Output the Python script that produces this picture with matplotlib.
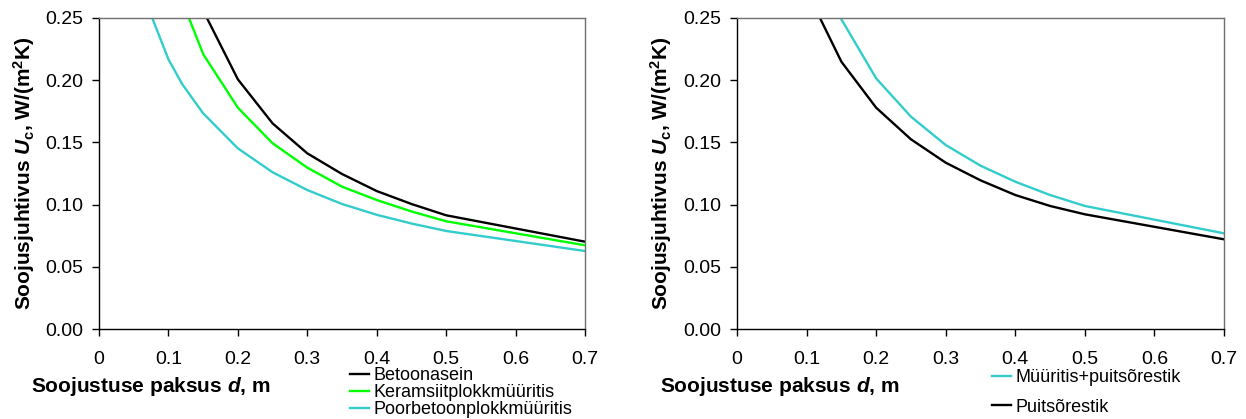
import numpy as np
import matplotlib
matplotlib.use('Agg')
import matplotlib.pyplot as plt
from matplotlib.ticker import FormatStrFormatter

plt.rcParams['font.family'] = ['Liberation Sans', 'DejaVu Sans']
plt.rcParams['mathtext.fontset'] = 'custom'
plt.rcParams['mathtext.rm'] = 'Liberation Sans:bold'
plt.rcParams['mathtext.bf'] = 'Liberation Sans:bold'
plt.rcParams['mathtext.it'] = 'Liberation Sans:bold:italic'

# left chart: wall types
d_betoon = [0.10, 0.15, 0.20, 0.25, 0.30, 0.35, 0.40, 0.45, 0.50, 0.70]
u_betoon = [0.352, 0.256, 0.2007, 0.1653, 0.1412, 0.1246, 0.1109, 0.1005, 0.0914, 0.0702]
d_keram = [0.10, 0.15, 0.20, 0.25, 0.30, 0.35, 0.40, 0.45, 0.50, 0.70]
u_keram = [0.292, 0.221, 0.1779, 0.1493, 0.1297, 0.1144, 0.1037, 0.0945, 0.0866, 0.0673]
d_poor = [0.05, 0.10, 0.12, 0.15, 0.20, 0.25, 0.30, 0.35, 0.40, 0.45, 0.50, 0.70]
u_poor = [0.288, 0.2168, 0.1967, 0.1734, 0.1452, 0.126, 0.1117, 0.1005, 0.0918, 0.0848, 0.0788, 0.0627]

# right chart: timber frame
d_muur = [0.10, 0.15, 0.20, 0.25, 0.30, 0.35, 0.40, 0.45, 0.50, 0.70]
u_muur = [0.316, 0.249, 0.2015, 0.1707, 0.1479, 0.1313, 0.1184, 0.1077, 0.0989, 0.0769]
d_puit = [0.10, 0.15, 0.20, 0.25, 0.30, 0.35, 0.40, 0.45, 0.50, 0.70]
u_puit = [0.272, 0.2149, 0.1779, 0.1525, 0.1337, 0.1195, 0.1077, 0.0989, 0.0922, 0.0721]

x_ticks = [0, 0.1, 0.2, 0.3, 0.4, 0.5, 0.6, 0.7]
x_ticklabels = ['0', '0.1', '0.2', '0.3', '0.4', '0.5', '0.6', '0.7']
y_ticks = [0.00, 0.05, 0.10, 0.15, 0.20, 0.25]

xlabel = r'Soojustuse paksus $d$, m'
ylabel = r'Soojusjuhtivus $U_{\mathrm{c}}$, W/(m$^{\mathrm{2}}$K)'

black = '#000000'
green = '#00ff00'
cyan = '#33cccc'

W, H = 1246, 419
fig = plt.figure(figsize=(W / 100, H / 100), dpi=100)
ax1 = fig.add_axes([99 / W, 90 / H, 486 / W, 311 / H])
ax2 = fig.add_axes([737 / W, 90 / H, 487 / W, 311 / H])

def style(ax, xlab_x):
  ax.set_xlim(0, 0.7)
  ax.set_ylim(0, 0.25)
  ax.set_xticks(x_ticks)
  ax.set_xticklabels(x_ticklabels)
  ax.set_yticks(y_ticks)
  ax.yaxis.set_major_formatter(FormatStrFormatter('%.2f'))
  ax.tick_params(axis='both', labelsize=14, length=5, width=1, direction='out')
  ax.tick_params(axis='x', pad=11)
  ax.tick_params(axis='y', pad=6)
  for s in ['top', 'right']:
    ax.spines[s].set_color('#707070')
  for s in ax.spines.values():
    s.set_linewidth(1)
  ax.set_xlabel(xlabel, fontsize=15, fontweight='bold', ha='center', va='center')
  ax.xaxis.set_label_coords(xlab_x, -0.186)
  ax.set_ylabel(ylabel, fontsize=15, fontweight='bold', va='center')
  ax.yaxis.set_label_coords(-0.155, 0.5)

ax1.plot(d_betoon, u_betoon, color=black, lw=1.7, label='Betoonasein')
ax1.plot(d_keram, u_keram, color=green, lw=1.7, label='Keramsiitplokkmüüritis')
ax1.plot(d_poor, u_poor, color=cyan, lw=1.7, label='Poorbetoonplokkmüüritis')
style(ax1, 0.107)

ax2.plot(d_muur, u_muur, color=cyan, lw=1.7, label='Müüritis+puitsõrestik')
ax2.plot(d_puit, u_puit, color=black, lw=1.7, label='Puitsõrestik')
style(ax2, 0.088)

ax1.legend(loc='upper left', bbox_to_anchor=(350 / W, 1 - 367 / H), bbox_transform=fig.transFigure,
           frameon=False, fontsize=13, handlelength=1.05, handletextpad=0.25,
           labelspacing=0.0, borderpad=0, borderaxespad=0)
ax2.legend(loc='upper left', bbox_to_anchor=(992 / W, 1 - 369 / H), bbox_transform=fig.transFigure,
           frameon=False, fontsize=13, handlelength=1.05, handletextpad=0.25,
           labelspacing=0.7, borderpad=0, borderaxespad=0)

fig.savefig('out.png', dpi=100)
